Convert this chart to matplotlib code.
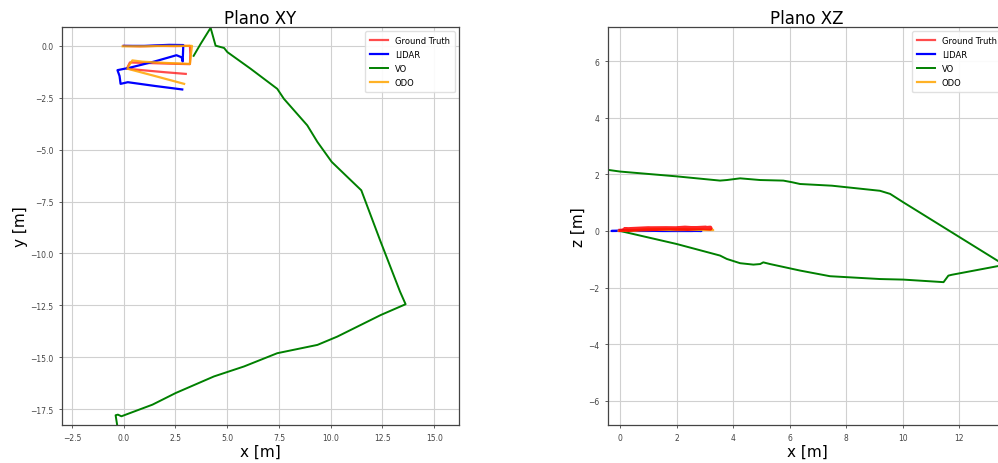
import matplotlib
matplotlib.use("Agg")
import matplotlib.pyplot as plt
from matplotlib.lines import Line2D

# ---------------- data ----------------
gt_x = [0.0, 0.8, 1.6, 2.4, 3.2, 3.22, 3.2, 2.3, 1.3, 0.3, 0.15, 1.0, 2.0, 3.0]
gt_y = [0.0, -0.02, 0.0, -0.01, 0.0, -0.4, -0.88, -0.86, -0.83, -0.8, -1.1, -1.18, -1.27, -1.35]
gt_z = [0.02, 0.07, 0.10, 0.06, 0.13, 0.09, 0.07, 0.13, 0.06, 0.04, 0.07, 0.11, 0.08, 0.13]

lidar_x = [0.0, 1.0, 2.2, 2.88, 2.85, 2.8, 2.55, 1.5, 0.3, -0.3, -0.2, -0.15, 0.2, 1.5, 2.83]
lidar_y = [0.0, 0.0, 0.05, 0.04, -0.75, -0.55, -0.45, -0.75, -1.05, -1.17, -1.45, -1.83, -1.75, -1.93, -2.1]
lidar_z = [0.0, 0.0, 0.01, 0.0, 0.0, 0.01, 0.0, 0.0, 0.01, 0.0, 0.0, 0.0, 0.01, 0.0, 0.0]

vo_xy_x = [3.38, 3.72, 4.2, 4.44, 4.85, 5.01, 6.13, 7.42, 7.74, 8.87, 9.36, 10.05, 10.8,
           11.48, 12.4, 13.35, 13.62, 12.42, 10.32, 9.36, 7.42, 5.81, 4.36, 2.51, 1.39,
           -0.11, -0.28, -0.39, -0.31]
vo_xy_y = [-0.48, 0.1, 0.87, 0.01, -0.1, -0.30, -1.1, -2.07, -2.55, -3.83, -4.63, -5.59, -6.31,
           -6.96, -9.4, -11.84, -12.45, -12.97, -14.01, -14.41, -14.81, -15.45, -15.93, -16.73, -17.29,
           -17.85, -17.77, -17.8, -18.3]

vo_xz_x = [0.0, 2.0, 3.54, 3.78, 4.25, 4.72, 4.96, 5.07, 5.31, 6.37, 7.43, 9.2, 10.03, 11.45,
           11.62, 11.74, 13.6, 10.5, 10.03, 9.56, 9.2, 7.5, 6.37, 6.1, 5.78, 4.96, 4.25, 3.78,
           3.54, 2.0, 0.0, -0.5]
vo_xz_z = [0.0, -0.46, -0.87, -0.99, -1.14, -1.19, -1.17, -1.11, -1.17, -1.4, -1.6, -1.7, -1.72, -1.81,
           -1.58, -1.55, -1.2, 0.72, 1.01, 1.31, 1.42, 1.6, 1.66, 1.72, 1.78, 1.8, 1.86, 1.8,
           1.78, 1.93, 2.1, 2.17]

odo_x = [-0.05, 1.0, 2.0, 3.3, 3.25, 3.2, 2.0, 0.9, 0.42, 0.25, 0.18, 1.5, 2.92]
odo_y = [-0.02, -0.02, 0.0, 0.0, -0.4, -0.87, -0.82, -0.76, -0.7, -0.95, -1.1, -1.45, -1.83]
odo_z = [0.0, 0.03, 0.05, 0.03, 0.06, 0.04, 0.03, 0.05, 0.02, 0.04, 0.03, 0.05, 0.04]

labels = ["Ground Truth", "LIDAR", "VO", "ODO"]
xy_xticks = [-2.5, 0.0, 2.5, 5.0, 7.5, 10.0, 12.5, 15.0]
xy_yticks = [0.0, -2.5, -5.0, -7.5, -10.0, -12.5, -15.0, -17.5]
xz_xticks = [0, 2, 4, 6, 8, 10, 12]
xz_yticks = [-6, -4, -2, 0, 2, 4, 6]

# ---------------- figure ----------------
fig = plt.figure(figsize=(9.98, 4.64), dpi=100)
ax1 = fig.add_axes([62 / 998, 38 / 464, 397 / 998, 398 / 464])
ax2 = fig.add_axes([608 / 998, 38 / 464, 398 / 998, 398 / 464])

c_gt = dict(color="red", alpha=0.7, lw=1.6)
c_li = dict(color="blue", lw=1.6)
c_vo = dict(color="green", lw=1.4)
c_od = dict(color="orange", alpha=0.85, lw=1.6)

ax1.plot(gt_x, gt_y, label=labels[0], **c_gt)
ax1.plot(lidar_x, lidar_y, label=labels[1], **c_li)
ax1.plot(vo_xy_x, vo_xy_y, label=labels[2], **c_vo)
ax1.plot(odo_x, odo_y, label=labels[3], **c_od)

ax2.plot(lidar_x, lidar_z, **c_li)
ax2.plot(vo_xz_x, vo_xz_z, **c_vo)
ax2.plot(odo_x, odo_z, **c_od)
ax2.plot(gt_x, gt_z, color="red", lw=2.4, alpha=0.85)

handles = [Line2D([], [], **c_gt), Line2D([], [], **c_li), Line2D([], [], **c_vo), Line2D([], [], **c_od)]

ax1.set_xlim(-2.98, 16.2)
ax1.set_ylim(-18.27, 0.91)
ax1.set_xticks(xy_xticks)
ax1.set_yticks(xy_yticks)
ax1.set_xticklabels([f"{v:.1f}".replace("-", "\u2212") for v in xy_xticks])
ax1.set_yticklabels([f"{v:.1f}".replace("-", "\u2212") for v in xy_yticks])

ax2.set_xlim(-0.425, 13.66)
ax2.set_ylim(-6.86, 7.21)
ax2.set_xticks(xz_xticks)
ax2.set_yticks(xz_yticks)

for ax, title, yl in [(ax1, "Plano XY", "y [m]"), (ax2, "Plano XZ", "z [m]")]:
    ax.set_title(title, fontsize=12, pad=3)
    ax.set_xlabel("x [m]", fontsize=11, labelpad=1)
    ax.set_ylabel(yl, fontsize=11, labelpad=2)
    ax.grid(True, color="#d0d0d0", lw=0.8)
    ax.set_axisbelow(True)
    ax.tick_params(labelsize=5.5, colors="#444444", length=2.5, width=0.6)
    for s in ax.spines.values():
        s.set_color("#444444")
        s.set_linewidth(0.9)
    ax.legend(handles, labels, loc="upper right", fontsize=6, framealpha=0.9,
              edgecolor="#dddddd", fancybox=True, handlelength=2.2, borderpad=0.6,
              labelspacing=0.6)

fig.savefig("out.png", dpi=100)
